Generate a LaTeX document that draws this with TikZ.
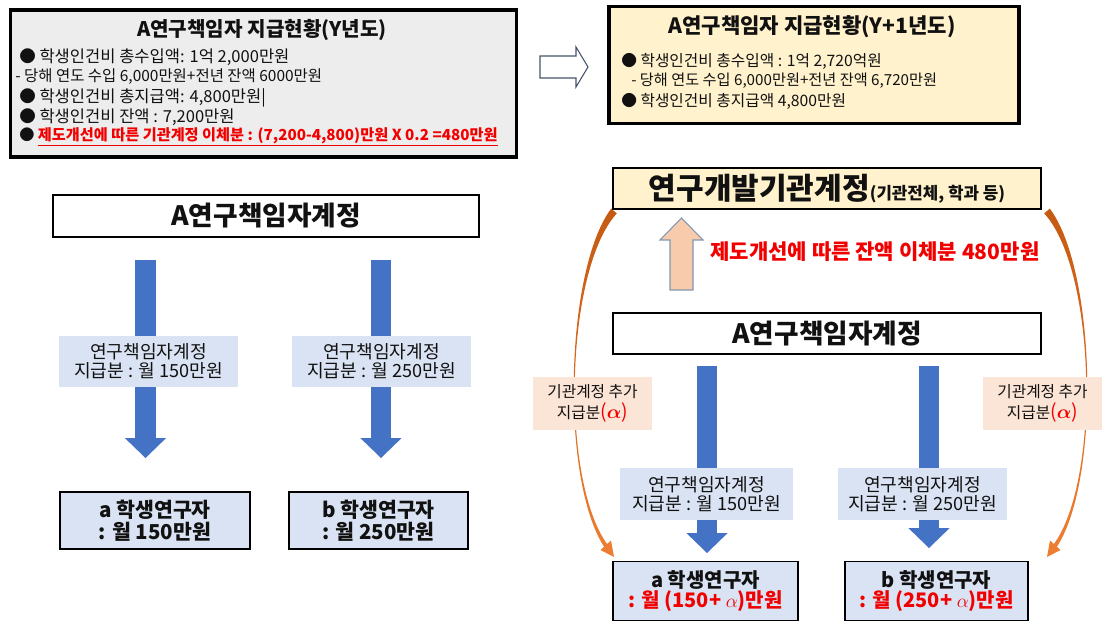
\documentclass[tikz,border=0pt]{standalone}
\usepackage{fontspec}
\setmainfont{Noto Sans CJK KR}
\usetikzlibrary{arrows.meta}
\definecolor{blueA}{HTML}{4472C4}
\definecolor{lblue}{HTML}{DAE3F3}
\definecolor{peachL}{HTML}{FBE5D6}
\definecolor{peachA}{HTML}{F8CBAD}
\definecolor{creamY}{HTML}{FFF2CC}
\definecolor{grayF}{HTML}{EDEDED}
\definecolor{redT}{HTML}{F20000}
\definecolor{brownO}{HTML}{C55A11}
\definecolor{orangeO}{HTML}{ED7D31}
\definecolor{slateL}{HTML}{44546A}
\definecolor{arrowEdge}{HTML}{8497B0}
\definecolor{inkT}{HTML}{111111}
\newcommand{\myfs}[2]{\fontsize{#1pt}{#2pt}\selectfont}
\newcommand{\redalpha}{{\boldmath$\alpha$}}
\begin{document}
\begin{tikzpicture}[x=0.75pt,y=-0.75pt,
  txt/.style={inner sep=0pt, text=inkT},
  bigframe/.style={draw=black, line width=2.4pt, inner sep=0pt},
  thinframe/.style={draw=black, line width=1.1pt, inner sep=0pt, text=inkT, align=center},
  lbl/.style={fill=lblue, inner sep=0pt, text=inkT, align=center, minimum height=38.5pt, font=\myfs{13.6}{14.5}},
  peachbox/.style={fill=peachL, inner sep=0pt, text=inkT, align=center, minimum width=89.25pt, minimum height=39.75pt, font=\myfs{11.8}{15.75}},
  stud/.style={thinframe, fill=lblue, font=\bfseries\myfs{15.4}{16.3}},
  bluearrow/.style={draw=blueA, line width=15.5pt, -{Triangle[length=15pt, width=31pt, line width=0pt]}},
  lineL/.style={txt, anchor=west, font=\myfs{12.4}{14}},
  subL/.style={txt, anchor=west, font=\myfs{11.6}{13}},
  lineR/.style={txt, anchor=west, font=\myfs{11.8}{13}},
  subR/.style={txt, anchor=west, font=\myfs{11.4}{13}}
]
\useasboundingbox (0,0) rectangle (1107,638);
\fill[white] (0,0) rectangle (1107,638);

% ---------- top-left summary box ----------
\node[bigframe, fill=grayF, minimum width=379pt, minimum height=110.25pt] (sumY) at (263.5,83.5) {};
\node[txt, font=\bfseries\myfs{15.1}{17}] (sumYt) at (262,30) {A연구책임자 지급현황(Y년도)};
\node[lineL] (sumY1) at (19,57) {● 학생인건비 총수입액: 1억 2,000만원};
\node[subL] (sumY2) at (15,77) {- 당해 연도 수입 6,000만원+전년 잔액 6000만원};
\node[lineL] (sumY3) at (19,98) {● 학생인건비 총지급액: 4,800만원|};
\node[lineL] (sumY4) at (19,117) {● 학생인건비 잔액 : 7,200만원};
\node[txt, anchor=west, font=\bfseries\myfs{11.4}{13}] (sumY5) at (19,137) {● {\color{redT}\underline{제도개선에 따른 기관계정 이체분 : (7,200-4,800)만원 X 0.2 =480만원}}};

% ---------- hollow arrow ----------
\draw[draw=slateL, line width=0.8pt, fill=white, line join=miter]
  (540,56) -- (576,56) -- (576,47) -- (588,67) -- (576,87) -- (576,78) -- (540,78) -- cycle;

% ---------- top-right summary box ----------
\node[bigframe, fill=creamY, minimum width=307.5pt, minimum height=88pt] (sumZ) at (814,65) {};
\node[txt, font=\bfseries\myfs{15.8}{17}] (sumZt) at (812,27) {A연구책임자 지급현황(Y+1년도)};
\node[lineR] (sumZ1) at (621,61) {● 학생인건비 총수입액 : 1억 2,720억원};
\node[subR] (sumZ2) at (631,81) {- 당해 연도 수입 6,000만원+전년 잔액 6,720만원};
\node[lineR] (sumZ3) at (621,101) {● 학생인건비 총지급액 4,800만원};

% ---------- left diagram ----------
\node[thinframe, fill=white, minimum width=319.5pt, minimum height=31.5pt, font=\bfseries\myfs{20}{21}] (acctL) at (266,216) {A연구책임자계정};
\coordinate (la0) at (145.5,260);
\coordinate (la1) at (145.5,458);
\coordinate (lb0) at (381,260);
\coordinate (lb1) at (381,458);
\draw[bluearrow] (la0) -- (la1);
\draw[bluearrow] (lb0) -- (lb1);
\node[lbl, minimum width=134.25pt] (labLa) at (148.5,361.5) {연구책임자계정\\지급분 : 월 150만원};
\node[lbl, minimum width=134.25pt] (labLb) at (381.5,361.5) {연구책임자계정\\지급분 : 월 250만원};
\node[stud, minimum width=142.5pt, minimum height=42.75pt] (stLa) at (155,520.5) {a 학생연구자\\: 월 150만원};
\node[stud, minimum width=134.25pt, minimum height=42.75pt] (stLb) at (378.5,520.5) {b 학생연구자\\: 월 250만원};

% ---------- right diagram: orange curved arrows (behind) ----------
\coordinate (lcA) at (611.2,208.6);
\coordinate (lcB) at (616.8,213.4);
\coordinate (lcC) at (604.4,547.2);
\coordinate (lcD) at (607.6,544.8);
\shade[top color=brownO, bottom color=orangeO]
  (lcA) .. controls (565,270) and (560,480) .. (lcC) -- (lcD)
  .. controls (560,480) and (565,270) .. (lcB) -- cycle;
\fill[orangeO] (614,557) -- (600.5,550) -- (611,540.5) -- cycle;
\coordinate (rcA) at (1049.8,208.6);
\coordinate (rcB) at (1044.2,213.4);
\coordinate (rcC) at (1056.6,547.2);
\coordinate (rcD) at (1053.4,544.8);
\shade[top color=brownO, bottom color=orangeO]
  (rcA) .. controls (1096,270) and (1101,480) .. (rcC) -- (rcD)
  .. controls (1101,480) and (1096,270) .. (rcB) -- cycle;
\fill[orangeO] (1047,557) -- (1060.5,550) -- (1050,540.5) -- cycle;

% ---------- right diagram ----------
\node[thinframe, fill=creamY, minimum width=321pt, minimum height=30.75pt] (inst) at (827,188.5)
  {{\bfseries\myfs{22.5}{24}연구개발기관계정}{\bfseries\myfs{12.6}{15}(기관전체, 학과 등)}};
\draw[draw=arrowEdge, line width=0.8pt, fill=peachA, line join=miter]
  (670,290) -- (670,240) -- (660,240) -- (681.5,218) -- (703,240) -- (693,240) -- (693,290) -- cycle;
\node[txt, anchor=west, text=redT, font=\bfseries\myfs{15.8}{17}] (trans) at (710,252) {제도개선에 따른 잔액 이체분 480만원};
\node[thinframe, fill=white, minimum width=321pt, minimum height=30.75pt, font=\bfseries\myfs{20}{21}] (acctR) at (827,333.5) {A연구책임자계정};

\coordinate (ra0) at (707,366);
\coordinate (ra1) at (707,553);
\coordinate (rb0) at (929,366);
\coordinate (rb1) at (929,548);
\draw[bluearrow] (ra0) -- (ra1);
\draw[bluearrow] (rb0) -- (rb1);
\node[lbl, minimum width=129.75pt, minimum height=39pt] (labRa) at (706.5,494) {연구책임자계정\\지급분 : 월 150만원};
\node[lbl, minimum width=126.75pt, minimum height=39pt] (labRb) at (922.5,494) {연구책임자계정\\지급분 : 월 250만원};

\node[peachbox] (addL) at (592.5,403.5) {기관계정 추가\\지급분{\color{redT}\myfs{14.5}{15.75}(\redalpha)}};
\node[peachbox] (addR) at (1042.5,403.5) {기관계정 추가\\지급분{\color{redT}\myfs{14.5}{15.75}(\redalpha)}};

\node[stud, minimum width=138.75pt, minimum height=44.25pt, font=\bfseries\myfs{15}{15.5}] (stRa) at (705.5,591) {a 학생연구자\\{\color{redT}: 월 (150+ $\alpha$)만원}};
\node[stud, minimum width=137.25pt, minimum height=44.25pt, font=\bfseries\myfs{15}{15.5}] (stRb) at (936.5,591) {b 학생연구자\\{\color{redT}: 월 (250+ $\alpha$)만원}};
\end{tikzpicture}
\end{document}
